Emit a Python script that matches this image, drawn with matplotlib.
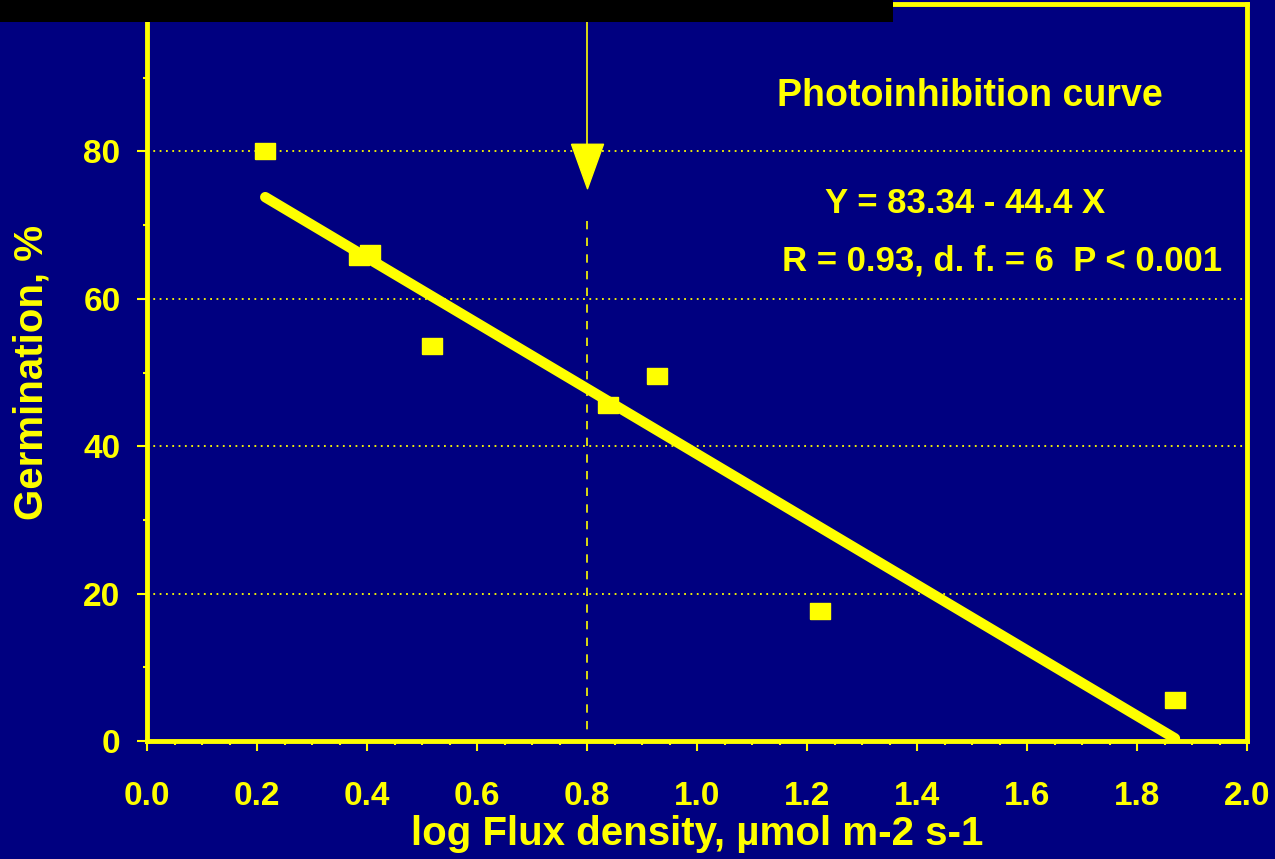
"""Photoinhibition curve: germination vs log flux density."""

import numpy as np
import matplotlib.pyplot as plt
from matplotlib.patches import Rectangle
from matplotlib.ticker import MultipleLocator

log_flux = [0.215, 0.385, 0.405, 0.518, 0.838, 0.927, 1.224, 1.869]
germination = [80.0, 65.7, 66.2, 53.6, 45.6, 49.5, 17.6, 5.6]

# Reported regression Y = 83.34 - 44.4 X
intercept = 83.34
slope = -44.4

x_ticks = [0.0, 0.2, 0.4, 0.6, 0.8, 1.0, 1.2, 1.4, 1.6, 1.8, 2.0]
y_ticks = [0, 20, 40, 60, 80]

marker_x = 0.8          # threshold marked by the arrow
arrow_top, arrow_tip = 100, 75.0
dash_top, dash_bottom = 70.6, 1.5

NAVY = "#000080"
YELLOW = "#FFFF00"
FONT = ["Liberation Sans", "DejaVu Sans"]

fig = plt.figure(figsize=(12.75, 8.59), dpi=100, facecolor=NAVY)
ax = fig.add_axes([147 / 1275, 1 - 741 / 859, 1100 / 1275, 737 / 859])
ax.set_facecolor(NAVY)

ax.set_xlim(0, 2.0)
ax.set_ylim(0, 100)

# dotted horizontal grid
for yv in y_ticks[1:]:
    ax.axhline(yv, color=YELLOW, linewidth=1.3, linestyle=(0, (1, 2.5)), zorder=1)

# regression line over the range of the data
xf = np.array([min(log_flux), max(log_flux)])
ax.plot(xf, intercept + slope * xf, color=YELLOW, linewidth=7.5,
        solid_capstyle="round", zorder=3)

# slightly wide square markers
rect = [(-1, -0.8), (1, -0.8), (1, 0.8), (-1, 0.8), (-1, -0.8)]
ax.plot(log_flux, germination, linestyle="none", marker=rect, markersize=15,
        color=YELLOW, zorder=4)

# arrow marking 0.8 and the dashed drop line
ax.plot([marker_x, marker_x], [arrow_top, arrow_tip + 4], color=YELLOW,
        linewidth=1.2, zorder=2)
tri = [(-0.72, 1), (0.72, 1), (0, -1), (-0.72, 1)]
ax.plot([marker_x], [arrow_tip + 3.05], marker=tri, markersize=32,
        color=YELLOW, linestyle="none", zorder=4)
ax.plot([marker_x, marker_x], [dash_top, dash_bottom], color=YELLOW,
        linewidth=1.2, linestyle=(0, (5, 5)), zorder=2)

# annotations
ax.text(1.496, 87.5, "Photoinhibition curve", color=YELLOW, fontsize=27,
        fontweight="bold", family=FONT, ha="center", va="center")
ax.text(1.487, 72.9, "Y = 83.34 - 44.4 X", color=YELLOW, fontsize=25,
        fontweight="bold", family=FONT, ha="center", va="center")
ax.text(1.555, 65.1, "R = 0.93, d. f. = 6  P < 0.001", color=YELLOW,
        fontsize=25, fontweight="bold", family=FONT, ha="center", va="center")

# spines & ticks
for s in ax.spines.values():
    s.set_color(YELLOW)
    s.set_linewidth(3.5)

ax.set_xticks(x_ticks)
ax.set_xticklabels([f"{v:.1f}" for v in x_ticks])
ax.set_yticks(y_ticks)
ax.xaxis.set_minor_locator(MultipleLocator(0.05))
ax.yaxis.set_minor_locator(MultipleLocator(10))
ax.tick_params(which="major", direction="out", length=7, width=1.5,
               color=YELLOW, labelcolor=YELLOW, labelsize=24)
ax.tick_params(which="minor", direction="out", length=3, width=1.5, color=YELLOW)
ax.tick_params(axis="x", which="major", pad=22)
ax.tick_params(axis="y", which="major", pad=12)
for lab in ax.get_xticklabels() + ax.get_yticklabels():
    lab.set_fontweight("bold")
    lab.set_family(FONT)

ax.set_xlabel("log Flux density, µmol m-2 s-1", color=YELLOW, fontsize=29,
              fontweight="bold", family=FONT, labelpad=2)
ax.set_ylabel("Germination, %", color=YELLOW, fontsize=29,
              fontweight="bold", family=FONT, labelpad=24)

# black title strip cut off at the top of the slide
fig.patches.append(Rectangle((0, 1 - 22 / 859), 893 / 1275, 22 / 859,
                             transform=fig.transFigure, facecolor="black",
                             edgecolor="none", zorder=10))

plt.savefig("out.png", dpi=100, facecolor=NAVY)
